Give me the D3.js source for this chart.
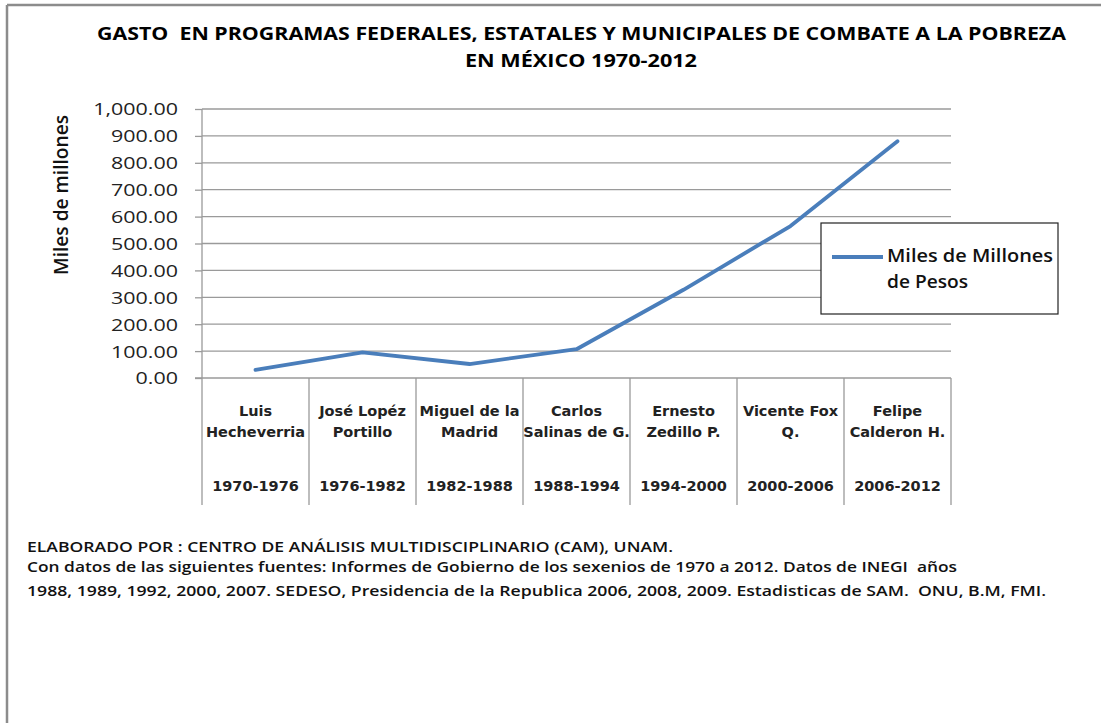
<!DOCTYPE html>
<html>
<head>
<meta charset="utf-8">
<script src="https://cdn.jsdelivr.net/npm/d3@7"></script>
<style>
  body { margin: 0; background: #fff; }
  svg { display: block; }
  svg text { white-space: pre; }
  .grid line { stroke: #9a9a9a; stroke-width: 1.3; }
  .sep { stroke: #9a9a9a; stroke-width: 1.3; }
  .tick text { font-family: "Open Sans", sans-serif; font-size: 16.5px; fill: #222; }
</style>
</head>
<body>
<div id="chart"></div>
<script>
// data
var presidents = [
  ["Luis", "Hecheverria"],
  ["José Lopéz", "Portillo"],
  ["Miguel de la", "Madrid"],
  ["Carlos", "Salinas de G."],
  ["Ernesto", "Zedillo P."],
  ["Vicente Fox", "Q."],
  ["Felipe", "Calderon H."]
];
var periods = ["1970-1976", "1976-1982", "1982-1988", "1988-1994", "1994-2000", "2000-2006", "2006-2012"];
var gasto = [30, 95, 52, 107, 328, 565, 880];
var yTicks = [0, 100, 200, 300, 400, 500, 600, 700, 800, 900, 1000];

var titleLines = [
  "GASTO  EN PROGRAMAS FEDERALES, ESTATALES Y MUNICIPALES DE COMBATE A LA POBREZA",
  "EN MÉXICO 1970-2012"
];
var seriesName = ["Miles de Millones", "de Pesos"];
var footer = [
  "ELABORADO POR : CENTRO DE ANÁLISIS MULTIDISCIPLINARIO (CAM), UNAM.",
  "Con datos de las siguientes fuentes: Informes de Gobierno de los sexenios de 1970 a 2012. Datos de INEGI  años",
  "1988, 1989, 1992, 2000, 2007. SEDESO, Presidencia de la Republica 2006, 2008, 2009. Estadisticas de SAM.  ONU, B.M, FMI."
];

var W = 1101, H = 723;
var svg = d3.select("#chart").append("svg").attr("width", W).attr("height", H);

// squeeze / stretch a text to a given width
var fit = function(sel, w) {
  return sel.attr("textLength", w).attr("lengthAdjust", "spacingAndGlyphs");
};

// outer frame
svg.append("line").attr("x1", 7).attr("x2", W).attr("y1", 5).attr("y2", 5)
  .attr("stroke", "#8c8c8c").attr("stroke-width", 2.5);
svg.append("line").attr("x1", 7).attr("x2", 7).attr("y1", 5).attr("y2", H)
  .attr("stroke", "#8c8c8c").attr("stroke-width", 2.5);

// title
var tfont = '"Open Sans", "Liberation Sans", sans-serif';
fit(svg.append("text").attr("x", 97).attr("y", 40)
  .style("font-family", tfont).style("font-weight", "bold").style("font-size", "18px")
  .text(titleLines[0]), 969);
fit(svg.append("text").attr("x", 465).attr("y", 67)
  .style("font-family", tfont).style("font-weight", "bold").style("font-size", "18px")
  .text(titleLines[1]), 232);

// scales
var x = d3.scaleBand().domain(periods).range([202, 951]).paddingInner(0).paddingOuter(0);
var y = d3.scaleLinear().domain([0, 1000]).range([378, 109]);

// gridlines
svg.append("g").attr("class", "grid").selectAll("line").data(yTicks.slice(1)).enter()
  .append("line")
  .attr("x1", 202).attr("x2", 951)
  .attr("y1", function(d) { return y(d); }).attr("y2", function(d) { return y(d); });

// y axis
var yAxis = d3.axisLeft(y).tickValues(yTicks).tickSize(7).tickPadding(17)
  .tickFormat(d3.format(",.2f"));
var gy = svg.append("g").attr("transform", "translate(202,0)").call(yAxis);
gy.select(".domain").remove();
gy.selectAll(".tick line").attr("stroke", "#9a9a9a").attr("stroke-width", 1.3);
gy.selectAll(".tick text").attr("dy", "0.36em").each(function() {
  var len = this.getComputedTextLength();
  fit(d3.select(this), len * 1.3);
});
svg.append("line").attr("class", "sep").attr("x1", 202).attr("x2", 202).attr("y1", 109).attr("y2", 505);

// x axis line and category separators
svg.append("line").attr("class", "sep").attr("x1", 195).attr("x2", 951).attr("y1", 378).attr("y2", 378);
var bounds = periods.map(function(p) { return x(p) + x.bandwidth(); });
svg.selectAll("line.catsep").data(bounds).enter().append("line")
  .attr("class", "sep catsep")
  .attr("x1", function(d) { return d; }).attr("x2", function(d) { return d; })
  .attr("y1", 378).attr("y2", 505);

// category labels
var cfont = '"DejaVu Sans", sans-serif';
var cat = svg.append("g").selectAll("g").data(periods).enter().append("g")
  .attr("transform", function(d) { return "translate(" + (x(d) + x.bandwidth() / 2) + ",0)"; })
  .style("font-family", cfont).style("font-weight", "bold").style("font-size", "14.5px")
  .attr("text-anchor", "middle").attr("fill", "#222");
cat.append("text").attr("y", 416).text(function(d, i) { return presidents[i][0]; });
cat.append("text").attr("y", 437).text(function(d, i) { return presidents[i][1]; });
cat.append("text").attr("y", 491).text(function(d) { return d; });

// y axis title
fit(svg.append("text")
  .attr("transform", "translate(68,195) rotate(-90)")
  .attr("text-anchor", "middle")
  .style("font-family", '"Open Sans", sans-serif').style("font-weight", "600").style("font-size", "19px").attr("fill", "#111")
  .text("Miles de millones"), 160);

// the line
var line = d3.line()
  .x(function(d, i) { return x(periods[i]) + x.bandwidth() / 2; })
  .y(function(d) { return y(d); });
svg.append("path").datum(gasto)
  .attr("fill", "none").attr("stroke", "#4a7ebb").attr("stroke-width", 3.8)
  .attr("stroke-linejoin", "round").attr("stroke-linecap", "round")
  .attr("d", line);

// legend
var lg = svg.append("g");
lg.append("rect").attr("x", 821).attr("y", 223).attr("width", 237).attr("height", 91)
  .attr("fill", "#fff").attr("stroke", "#222").attr("stroke-width", 1.2);
lg.append("line").attr("x1", 832).attr("x2", 883).attr("y1", 257).attr("y2", 257)
  .attr("stroke", "#4a7ebb").attr("stroke-width", 3.8);
fit(lg.append("text").attr("x", 887).attr("y", 262)
  .style("font-family", '"Open Sans", sans-serif').style("font-weight", "600").style("font-size", "18px").attr("fill", "#111")
  .text(seriesName[0]), 166);
fit(lg.append("text").attr("x", 887).attr("y", 288)
  .style("font-family", '"Open Sans", sans-serif').style("font-weight", "600").style("font-size", "18px").attr("fill", "#111")
  .text(seriesName[1]), 81);

// footer
var fy = [552, 572, 596];
var fw = [646, 930, 1019];
footer.forEach(function(t, i) {
  fit(svg.append("text").attr("x", 27).attr("y", fy[i])
    .style("font-family", tfont).style("font-weight", "600").style("font-size", "15px")
    .attr("fill", "#111").text(t), fw[i]);
});
</script>
</body>
</html>
